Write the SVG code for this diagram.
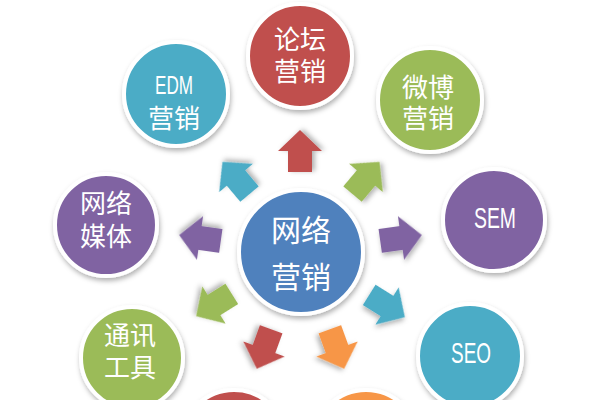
<svg xmlns="http://www.w3.org/2000/svg" width="600" height="400" viewBox="0 0 600 400">
<defs>
<filter id="sh" x="-20%" y="-20%" width="140%" height="150%">
<feDropShadow dx="1" dy="3" stdDeviation="2.5" flood-color="#000" flood-opacity="0.3"/>
</filter>
<path id="arr" d="M-21,-12 H0 V-22 L21,0 L0,22 V12 H-21 Z"/>
</defs>
<style>
.c{stroke:#fff;stroke-width:4;filter:url(#sh)}
.t{fill:#fff;font-family:"Noto Sans CJK SC","Noto Sans",sans-serif;text-anchor:middle;font-size:26px}
.l{fill:#fff;font-family:"Liberation Sans","Noto Sans",sans-serif;text-anchor:middle}
.a{filter:url(#sh)}
.red{fill:#C0504D}.teal{fill:#4BACC6}.green{fill:#9BBB59}.purple{fill:#8064A2}.blue{fill:#4F81BD}.orange{fill:#F79646}
</style>
<rect width="600" height="400" fill="#fff"/>
<g id="connectors">
<use href="#arr" class="a red" transform="translate(300,151) rotate(-90)"/>
<use href="#arr" class="a teal" transform="translate(236,178) rotate(-130)"/>
<use href="#arr" class="a green" transform="translate(366,178) rotate(-50)"/>
<use href="#arr" class="a purple" transform="translate(200,238) rotate(188)"/>
<use href="#arr" class="a purple" transform="translate(401,238) rotate(-8)"/>
<use href="#arr" class="a green" transform="translate(214,305) rotate(148)"/>
<use href="#arr" class="a teal" transform="translate(387,306) rotate(32)"/>
<use href="#arr" class="a red" transform="translate(264,349) rotate(110)"/>
<use href="#arr" class="a orange" transform="translate(337,349) rotate(70)"/>
</g>
<g id="center">
<circle class="c blue" cx="301" cy="252" r="62"/>
<text class="t" x="301" y="241" style="font-size:30px">网络</text>
<text class="t" x="301" y="288" style="font-size:30px">营销</text>
</g>
<g id="forum">
<circle class="c red" cx="300" cy="56" r="52"/>
<text class="t" x="300" y="49">论坛</text>
<text class="t" x="300" y="81">营销</text>
</g>
<g id="edm">
<circle class="c teal" cx="176" cy="94" r="52"/>
<text class="l" x="174" y="94" style="font-size:25px" textLength="38" lengthAdjust="spacingAndGlyphs">EDM</text>
<text class="t" x="174" y="127.5">营销</text>
</g>
<g id="weibo">
<circle class="c green" cx="430" cy="100" r="52"/>
<text class="t" x="428" y="96.5">微博</text>
<text class="t" x="428" y="127.5">营销</text>
</g>
<g id="media">
<circle class="c purple" cx="106" cy="225" r="51"/>
<text class="t" x="106" y="213">网络</text>
<text class="t" x="106" y="245.5">媒体</text>
</g>
<g id="sem">
<circle class="c purple" cx="494" cy="220" r="51"/>
<text class="l" x="495" y="228" style="font-size:30px" textLength="42" lengthAdjust="spacingAndGlyphs">SEM</text>
</g>
<g id="im">
<circle class="c green" cx="132" cy="358" r="51"/>
<text class="t" x="130" y="345">通讯</text>
<text class="t" x="130" y="376.5">工具</text>
</g>
<g id="seo">
<circle class="c teal" cx="470" cy="356" r="52"/>
<text class="l" x="471" y="363" style="font-size:30px" textLength="40" lengthAdjust="spacingAndGlyphs">SEO</text>
</g>
<g id="bottom-red">
<circle class="c red" cx="234" cy="442" r="52"/>
</g>
<g id="bottom-orange">
<circle class="c orange" cx="366" cy="442" r="52"/>
</g>
</svg>
